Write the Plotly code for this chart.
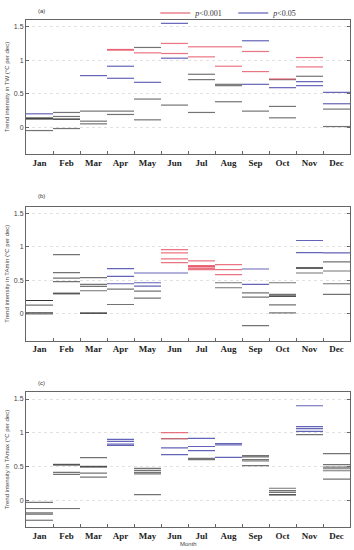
import plotly.graph_objects as go

months = ["Jan", "Feb", "Mar", "Apr", "May", "Jun", "Jul", "Aug", "Sep", "Oct", "Nov", "Dec"]

# Panel (a) TW: per-month trend values, grouped by significance
tw_red = [[], [], [], [1.16, 1.15], [1.11], [1.25, 1.10], [1.20, 1.05], [1.20, 0.91],
          [1.13, 0.83], [0.72], [1.04, 0.90], []]
tw_blue = [[0.20], [], [0.77], [0.91, 0.73], [0.67], [1.55, 1.03], [], [],
           [1.29, 0.64], [0.59], [0.68, 0.62], [0.52, 0.35]]
tw_ns = [[0.14, 0.13, 0.12, -0.05], [0.22, 0.16, 0.12, 0.12, -0.02], [0.24, 0.09, 0.05],
         [0.24, 0.19], [1.19, 0.42, 0.11], [0.33], [0.79, 0.71, 0.22], [0.64, 0.62, 0.38],
         [0.24], [0.71, 0.31, 0.14], [0.76], [0.27, 0.01]]

# Panel (b) TAmin
tamin_red = [[], [], [], [], [], [0.96, 0.91, 0.82, 0.765], [0.79, 0.72, 0.71, 0.70, 0.68, 0.66],
             [0.735, 0.66, 0.585], [], [], [], []]
tamin_blue = [[], [], [], [0.675, 0.56, 0.45], [0.61, 0.465, 0.415], [0.61], [], [],
              [0.67, 0.44], [], [1.095, 0.915], [0.91]]
tamin_ns = [[0.20, 0.20, 0.13, 0.02, 0.00], [0.885, 0.615, 0.535, 0.48, 0.31, 0.30],
            [0.54, 0.44, 0.41, 0.345, 0.01, 0.01], [0.37, 0.14], [0.34, 0.235], [], [],
            [0.465, 0.39], [0.315, 0.25, -0.175], [0.465, 0.29, 0.27, 0.26, 0.135, 0.015],
            [0.69, 0.68, 0.61], [0.775, 0.64, 0.45, 0.29]]

# Panel (c) TAmax
tamax_red = [[], [], [], [], [], [1.00, 0.91], [], [], [], [], [], []]
tamax_blue = [[], [], [], [0.90, 0.87, 0.83, 0.81], [], [0.775, 0.675], [0.915, 0.795, 0.735],
              [0.84, 0.82, 0.635], [], [], [1.40, 1.09, 1.06, 1.02], []]
tamax_ns = [[-0.035, -0.125, -0.19, -0.21, -0.30], [0.53, 0.52, 0.41, 0.38, -0.125],
            [0.63, 0.50, 0.49, 0.40, 0.34], [], [0.47, 0.44, 0.41, 0.39, 0.08], [0.91],
            [0.62, 0.60], [], [0.66, 0.64, 0.60, 0.58, 0.51], [0.175, 0.14, 0.115, 0.08, 0.075],
            [0.97], [0.69, 0.525, 0.49, 0.465, 0.435, 0.31]]

panel_labels = ["(a)", "(b)", "(c)"]
y_titles = ["Trend intensity in TW (°C per dec)",
            "Trend intensity in TAmin (°C per dec)",
            "Trend intensity in TAmax (°C per dec)"]
y_ticks = [0, 0.5, 1, 1.5]
y_ticktext = ["0", "0.5", "1", "1.5"]

RED = "rgba(228,70,90,0.75)"
BLUE = "rgba(60,60,165,0.8)"
GRAY = "rgba(0,0,0,0.55)"

panels = [(tw_red, tw_blue, tw_ns), (tamin_red, tamin_blue, tamin_ns), (tamax_red, tamax_blue, tamax_ns)]
domains = [[0.7357, 1.0], [0.3675, 0.6318], [0.0, 0.2657]]

fig = go.Figure()

for p, (reds, blues, nss) in enumerate(panels):
    xa = "x" if p == 0 else f"x{p+1}"
    ya = "y" if p == 0 else f"y{p+1}"
    for group, col in ((nss, GRAY), (blues, BLUE), (reds, RED)):
        for i, vals in enumerate(group):
            for v in vals:
                fig.add_trace(go.Scatter(
                    x=[i - 0.5, i + 0.5], y=[v, v], mode="lines",
                    line=dict(color=col, width=1.2), showlegend=False,
                    hoverinfo="skip", xaxis=xa, yaxis=ya))

# legend entries
fig.add_trace(go.Scatter(x=[None], y=[None], mode="lines", name="<i>p</i>&lt;0.001",
                         line=dict(color="rgba(228,90,105,0.75)", width=1.5)))
fig.add_trace(go.Scatter(x=[None], y=[None], mode="lines", name="<i>p</i>&lt;0.05",
                         line=dict(color="rgba(80,80,175,0.75)", width=1.5)))

layout = dict(
    width=354, height=550,
    margin=dict(l=26, r=4, t=20, b=23, autoexpand=False),
    paper_bgcolor="white", plot_bgcolor="white",
    showlegend=True,
    legend=dict(orientation="h", x=0.399, y=1.014, xanchor="left", yanchor="middle",
                font=dict(family="Liberation Serif", size=8, color="#333"),
                bgcolor="rgba(0,0,0,0)", itemwidth=30, tracegroupgap=0,
                entrywidth=33, entrywidthmode="pixels"),
)

annotations = []
for p in range(3):
    sx = "" if p == 0 else str(p + 1)
    layout[f"xaxis{sx}"] = dict(
        domain=[0, 1], anchor=f"y{sx}", range=[-0.5, 11.5], automargin=False,
        tickmode="array", tickvals=list(range(12)), ticktext=months,
        ticks="", showgrid=False, zeroline=False,
        showline=True, linecolor="#666", linewidth=1, mirror=True,
        tickfont=dict(family="Liberation Serif", size=9, color="#222", weight="bold"),
        minor=dict(tickvals=[i + 0.5 for i in range(11)], ticks="inside", ticklen=3,
                   tickcolor="#666", showgrid=False),
    )
    layout[f"yaxis{sx}"] = dict(
        domain=domains[p], anchor=f"x{sx}", range=[-0.4, 1.6], automargin=False,
        tickmode="array", tickvals=y_ticks, ticktext=y_ticktext,
        ticks="inside", ticklen=3, tickcolor="#666",
        showgrid=True, gridcolor="#e2e2e2", griddash="dot", gridwidth=1,
        zeroline=False, showline=True, linecolor="#666", linewidth=1, mirror="ticks",
        tickfont=dict(family="Liberation Sans", size=7, color="#444"),
        title=dict(text=y_titles[p], font=dict(family="Liberation Sans", size=6, color="#444"),
                   standoff=3),
    )
    annotations.append(dict(
        text=panel_labels[p], xref="paper", yref="paper", x=0.047, y=domains[p][1],
        yshift=[9, 11, 9][p], showarrow=False, xanchor="center", yanchor="middle",
        font=dict(family="Liberation Sans", size=6, color="#333")))

annotations.append(dict(
    text="Month", xref="paper", yref="paper", x=0.5, y=0, yshift=-17,
    showarrow=False, xanchor="center", yanchor="middle",
    font=dict(family="Liberation Sans", size=6, color="#444")))

layout["annotations"] = annotations
fig.update_layout(**layout)
fig.write_html("out.html", config={"displayModeBar": False},
               post_script="document.body.style.margin='0px';document.body.style.overflow='hidden';")
